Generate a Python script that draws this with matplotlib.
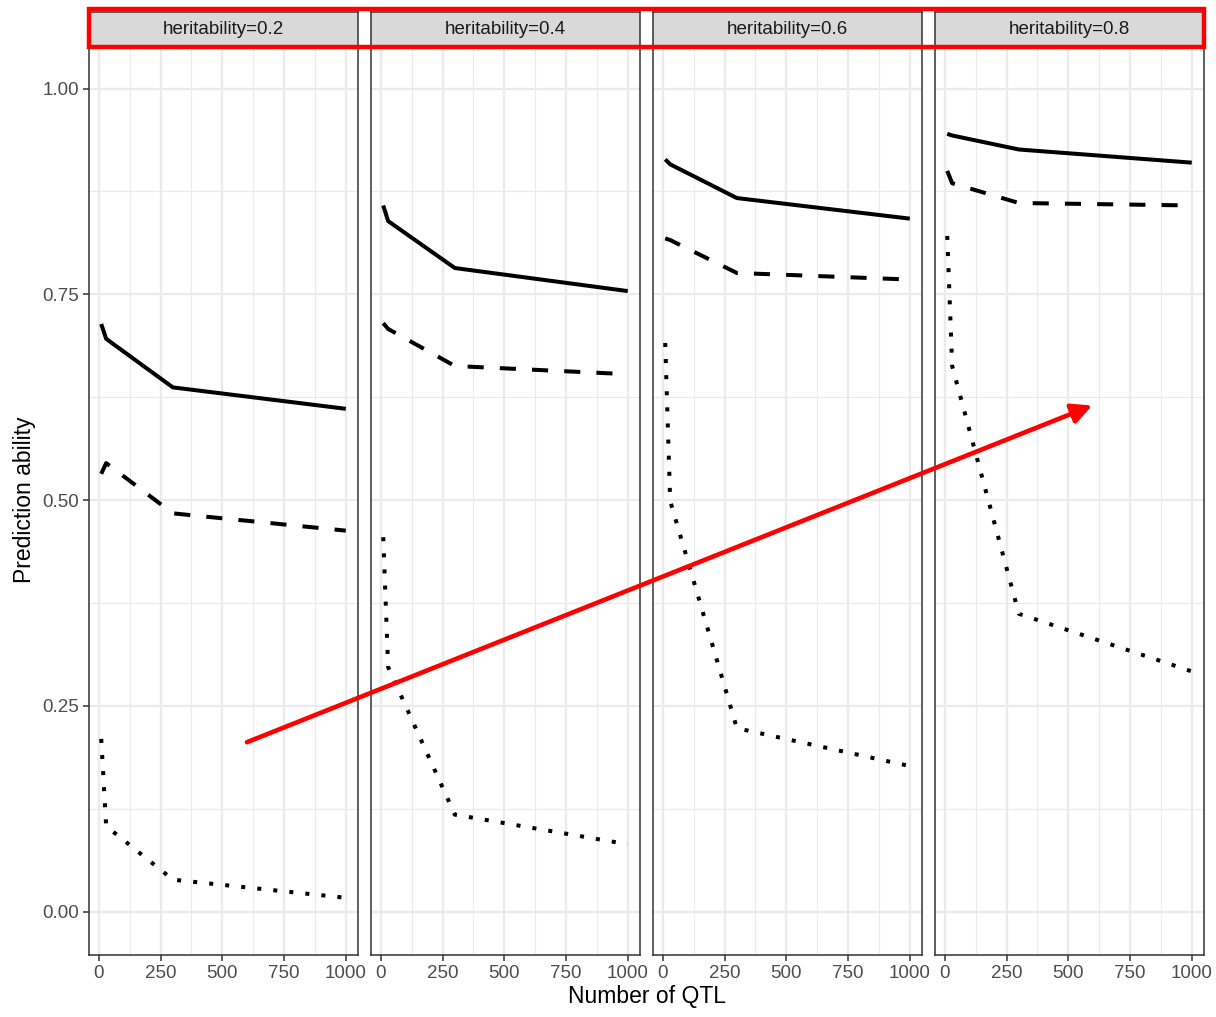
import matplotlib
matplotlib.use("Agg")
import matplotlib.pyplot as plt
from matplotlib.patches import ConnectionPatch, Rectangle

plt.rcParams['font.family'] = ['Liberation Sans', 'DejaVu Sans']

# data
qtl = [10, 30, 300, 1000]
heritability = ["0.2", "0.4", "0.6", "0.8"]
solid_vals = [
    [0.714, 0.696, 0.637, 0.611],
    [0.858, 0.839, 0.782, 0.754],
    [0.914, 0.908, 0.867, 0.842],
    [0.945, 0.943, 0.926, 0.910],
]
dashed_vals = [
    [0.532, 0.545, 0.484, 0.463],
    [0.715, 0.708, 0.663, 0.653],
    [0.818, 0.816, 0.776, 0.768],
    [0.900, 0.885, 0.861, 0.858],
]
dotted_vals = [
    [0.210, 0.104, 0.039, 0.017],
    [0.455, 0.297, 0.118, 0.082],
    [0.691, 0.499, 0.223, 0.177],
    [0.821, 0.663, 0.362, 0.292],
]
arrow_start = (600, 0.206)   # in panel 1
arrow_end = (597, 0.615)     # in panel 4

W, H = 1216, 1017
fig = plt.figure(figsize=(W / 100, H / 100), dpi=100)

lefts = [89, 371, 653, 935]
pw = 269
axes = []
strips = []
for i in range(4):
    ax = fig.add_axes([lefts[i] / W, 1 - 955 / H, pw / W, 908 / H])
    ax.set_facecolor('white')
    ax.plot(qtl, solid_vals[i], color='black', lw=2.9, solid_capstyle='butt')
    ax.plot(qtl, dashed_vals[i], color='black', lw=2.9, linestyle=(0, (4, 4)), dash_capstyle='butt')
    ax.plot(qtl, dotted_vals[i], color='black', lw=2.9, linestyle=(0, (1, 3)), dash_capstyle='butt')
    ax.set_xlim(-39.5, 1049.5)
    ax.set_ylim(-0.0525, 1.0505)
    ax.set_xticks([0, 250, 500, 750, 1000])
    ax.set_xticks([125, 375, 625, 875], minor=True)
    ax.set_yticks([0, 0.25, 0.5, 0.75, 1.0])
    ax.set_yticks([0.125, 0.375, 0.625, 0.875], minor=True)
    ax.grid(which='major', color='#EBEBEB', lw=1.7)
    ax.grid(which='minor', color='#EBEBEB', lw=0.9)
    ax.set_axisbelow(True)
    for s in ax.spines.values():
        s.set_color('#333333')
        s.set_linewidth(1.1)
    ax.tick_params(which='major', length=4, width=1.1, color='#333333',
                   labelcolor='#4D4D4D', labelsize=13.5, pad=3)
    ax.tick_params(which='minor', length=0)
    if i == 0:
        ax.set_yticklabels(['0.00', '0.25', '0.50', '0.75', '1.00'])
    else:
        ax.tick_params(axis='y', which='both', left=False, labelleft=False)
    axes.append(ax)

    sax = fig.add_axes([lefts[i] / W, 1 - 46 / H, pw / W, 34 / H])
    sax.set_facecolor('#D9D9D9')
    sax.set_xticks([])
    sax.set_yticks([])
    for s in sax.spines.values():
        s.set_color('#333333')
        s.set_linewidth(1.1)
    sax.text(0.5, 0.5, 'heritability=' + heritability[i], ha='center', va='center',
             fontsize=13.5, color='#1A1A1A', transform=sax.transAxes)
    strips.append(sax)

fig.text(647 / W, 1 - 997 / H, 'Number of QTL', ha='center', va='center', fontsize=16.5)
fig.text(25 / W, 1 - 500 / H, 'Prediction ability', ha='center', va='center',
         rotation=90, fontsize=16.5)

# red highlight around the strips
p0 = strips[0].get_position()
p3 = strips[3].get_position()
fig.patches.append(Rectangle((p0.x0, p0.y0 - 1 / H), p3.x1 - p0.x0, p0.height + 4 / H,
                             transform=fig.transFigure, fill=False, ec='red', lw=3.2,
                             zorder=10))

# red arrow across panels
con = ConnectionPatch(xyA=arrow_start, coordsA=axes[0].transData,
                      xyB=arrow_end, coordsB=axes[3].transData,
                      arrowstyle='-|>', color='red', lw=3.3, mutation_scale=30,
                      shrinkA=0, shrinkB=0, zorder=10)
fig.add_artist(con)

fig.savefig('out.png', dpi=100)
